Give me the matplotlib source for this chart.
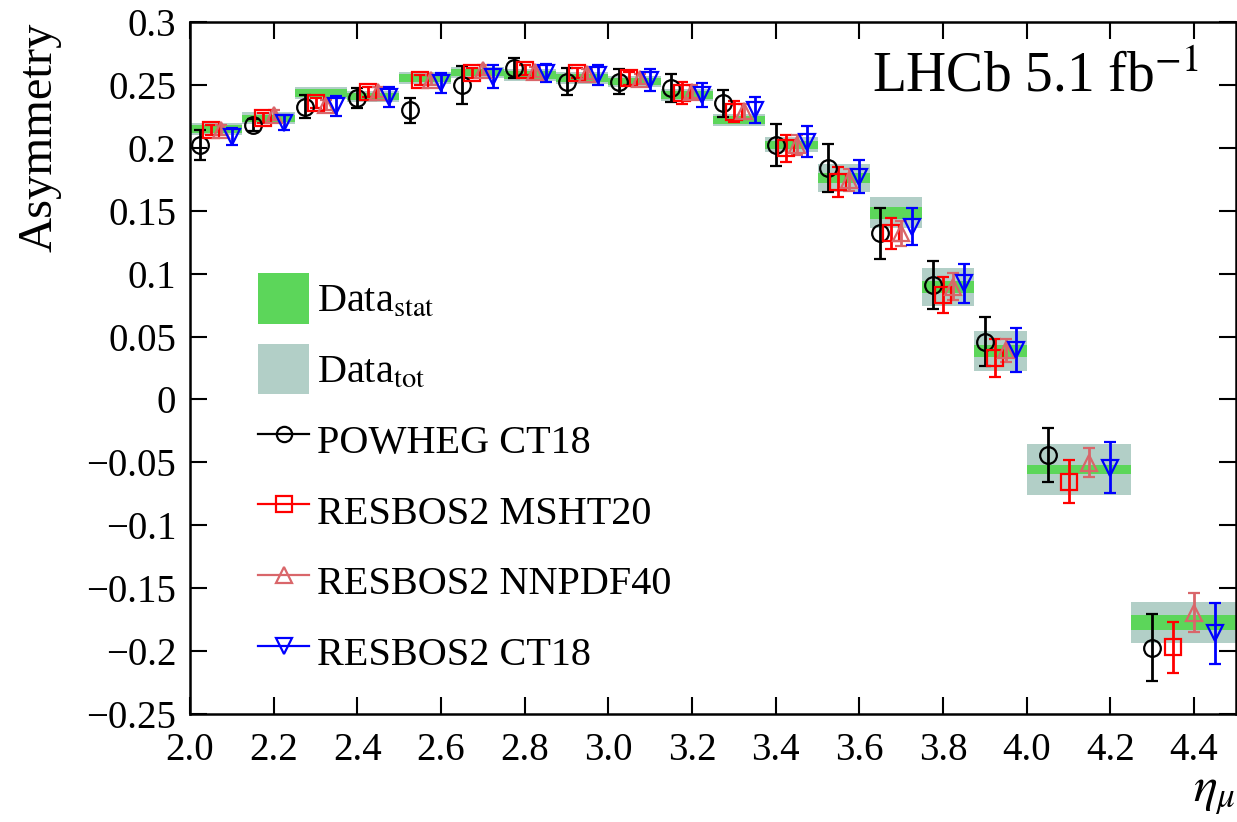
import numpy as np
import matplotlib
matplotlib.use("Agg")
import matplotlib.pyplot as plt
from matplotlib.patches import Patch
from matplotlib.lines import Line2D

plt.rcParams["font.family"] = ["Liberation Serif", "DejaVu Serif"]
plt.rcParams["mathtext.fontset"] = "stix"

# eta bin edges
bin_edges = [2.0, 2.125, 2.25, 2.375, 2.5, 2.625, 2.75, 2.875, 3.0, 3.125,
             3.25, 3.375, 3.5, 3.625, 3.75, 3.875, 4.0, 4.25, 4.5]

# measured asymmetry with stat and total uncertainty
data_val = [0.215, 0.2235, 0.2435, 0.2407, 0.2553, 0.260, 0.258, 0.2553, 0.2527,
            0.242, 0.222, 0.2023, 0.176, 0.1484, 0.0894, 0.0386, -0.0559, -0.1773]
data_stat = [0.003, 0.003, 0.003, 0.003, 0.003, 0.003, 0.003, 0.003, 0.003,
             0.003, 0.003, 0.003, 0.004, 0.0047, 0.0045, 0.0045, 0.0037, 0.0057]
data_tot = [0.0046, 0.0046, 0.0046, 0.0046, 0.0046, 0.0046, 0.0046, 0.0046, 0.0046,
            0.005, 0.005, 0.006, 0.0109, 0.0123, 0.0149, 0.0157, 0.0203, 0.0166]

powheg_ct18 = [0.2025, 0.218, 0.2328, 0.2394, 0.230, 0.250, 0.2633, 0.2527, 0.2527,
               0.2474, 0.2354, 0.2023, 0.1838, 0.132, 0.091, 0.046, -0.0441, -0.1973]
powheg_ct18_err = [0.012, 0.005, 0.009, 0.008, 0.010, 0.015, 0.008, 0.011, 0.010,
                   0.011, 0.0106, 0.0166, 0.019, 0.0205, 0.019, 0.0195, 0.0212, 0.0264]

resbos_msht20 = [0.214, 0.2235, 0.2355, 0.2447, 0.254, 0.2593, 0.262, 0.2593, 0.2553,
                 0.2434, 0.2288, 0.1997, 0.173, 0.132, 0.083, 0.0327, -0.0653, -0.197]
resbos_msht20_err = [0.004, 0.004, 0.004, 0.004, 0.004, 0.004, 0.004, 0.004, 0.005,
                     0.0086, 0.0086, 0.0106, 0.012, 0.0126, 0.0143, 0.0152, 0.017, 0.0203]

resbos_nnpdf40 = [0.214, 0.226, 0.234, 0.2447, 0.254, 0.262, 0.260, 0.259, 0.255,
                  0.2447, 0.229, 0.2023, 0.1745, 0.132, 0.0897, 0.039, -0.0502, -0.1694]
resbos_nnpdf40_err = [0.004, 0.004, 0.004, 0.004, 0.004, 0.004, 0.004, 0.004, 0.004,
                      0.005, 0.006, 0.008, 0.009, 0.010, 0.011, 0.009, 0.0117, 0.0152]

resbos_ct18 = [0.209, 0.220, 0.233, 0.2407, 0.2513, 0.2566, 0.2593, 0.258, 0.254,
               0.242, 0.230, 0.205, 0.177, 0.1374, 0.0923, 0.039, -0.0542, -0.186]
resbos_ct18_err = [0.007, 0.006, 0.008, 0.008, 0.008, 0.009, 0.007, 0.008, 0.009,
                   0.0095, 0.0106, 0.012, 0.013, 0.0146, 0.0156, 0.0175, 0.0203, 0.024]

green = "#5cd65a"
grey = "#b2cfc7"
pink = "#d9666a"

edges = np.array(bin_edges)
lo = edges[:-1]
width = np.diff(edges)
val = np.array(data_val)

fig = plt.figure(figsize=(12.37, 8.22), dpi=100)
ax = fig.add_axes([0.1536, 0.1314, 0.8455, 0.8418])

ax.bar(lo, 2 * np.array(data_tot), width=width, bottom=val - np.array(data_tot),
       align="edge", color=grey, linewidth=0, zorder=1)
ax.bar(lo, 2 * np.array(data_stat), width=width, bottom=val - np.array(data_stat),
       align="edge", color=green, linewidth=0, zorder=2)

models = [
    (powheg_ct18, powheg_ct18_err, "black", "o", 0.2, "POWHEG CT18"),
    (resbos_msht20, resbos_msht20_err, "red", "s", 0.4, "RESBOS2 MSHT20"),
    (resbos_nnpdf40, resbos_nnpdf40_err, pink, "^", 0.6, "RESBOS2 NNPDF40"),
    (resbos_ct18, resbos_ct18_err, "blue", "v", 0.8, "RESBOS2 CT18"),
]
handles = [Patch(facecolor=green, label=r"Data$_{\rm stat}$"),
           Patch(facecolor=grey, label=r"Data$_{\rm tot}$")]
for y, e, c, m, frac, name in models:
    x = lo + frac * width
    ax.errorbar(x, y, yerr=e, fmt=m, color=c, mfc="none", mec=c, ms=12, mew=1.6,
                elinewidth=2, capsize=4, capthick=2, zorder=3)
    handles.append(Line2D([0], [0], color=c, marker=m, mfc="none", mec=c,
                          ms=11, mew=1.6, lw=1.6, label=name))

ax.set_xlim(2.0, 4.5)
ax.set_ylim(-0.25, 0.3)
ax.set_xticks(np.arange(2.0, 4.41, 0.2))
ax.set_xticklabels([f"{t:.1f}" for t in np.arange(2.0, 4.41, 0.2)])
ax.set_yticks(np.arange(-0.25, 0.301, 0.05))
ax.set_yticklabels(["\u22120.25", "\u22120.2", "\u22120.15", "\u22120.1", "\u22120.05",
                    "0", "0.05", "0.1", "0.15", "0.2", "0.25", "0.3"])
ax.tick_params(direction="in", top=True, right=True, length=12, width=1.5,
               labelsize=28, pad=10)
ax.tick_params(axis="x", pad=13)
for s in ax.spines.values():
    s.set_linewidth(1.8)

ax.set_ylabel("Asymmetry", fontsize=35, loc="top", labelpad=18)
ax.set_xlabel(r"$\eta_\mu$", fontsize=36, loc="right", labelpad=1)
ax.text(0.965, 0.92, r"LHCb 5.1 fb$^{-1}$", transform=ax.transAxes,
        fontsize=40, ha="right", va="center")

ax.legend(handles=handles, loc="upper left", bbox_to_anchor=(0.05, 0.66),
          frameon=False, fontsize=29, handlelength=1.25, handleheight=1.55,
          labelspacing=0.5, handletextpad=0.2, borderaxespad=0)

fig.savefig("out.png", dpi=100)
